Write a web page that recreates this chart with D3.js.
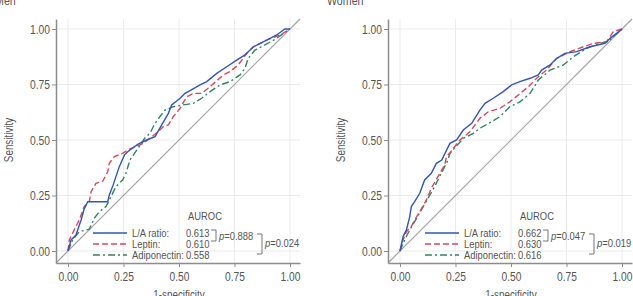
<!DOCTYPE html>
<html>
<head>
<meta charset="utf-8">
<script src="https://cdn.jsdelivr.net/npm/d3@7"></script>
<style>
  body { margin: 0; background: #fff; }
  svg text { font-family: "Liberation Sans", Arial, sans-serif; fill: #555; }
</style>
</head>
<body>
<svg width="633" height="296"></svg>
<script>
// Panels and labels
var panelTitles = ["Men", "Women"];
var seriesNames = ["L/A ratio:", "Leptin:", "Adiponectin:"];
var aurocMen = ["0.613", "0.610", "0.558"];
var aurocWomen = ["0.662", "0.630", "0.616"];
var pMen = ["0.888", "0.024"];
var pWomen = ["0.047", "0.019"];
var tickValues = [0, 0.25, 0.5, 0.75, 1];

// ROC points [1-specificity, sensitivity]
var menLA = [[0,0],[0.014,0.05],[0.036,0.072],[0.059,0.14],[0.073,0.19],[0.089,0.222],[0.104,0.222],[0.179,0.222],[0.186,0.252],[0.201,0.29],[0.216,0.335],[0.231,0.38],[0.254,0.432],[0.269,0.447],[0.279,0.455],[0.314,0.48],[0.354,0.5],[0.392,0.515],[0.422,0.568],[0.452,0.62],[0.467,0.658],[0.505,0.688],[0.527,0.71],[0.542,0.718],[0.595,0.748],[0.625,0.763],[0.67,0.8],[0.715,0.83],[0.76,0.86],[0.797,0.883],[0.835,0.92],[0.895,0.95],[0.94,0.973],[0.977,1.0],[1,1]];
var menLeptin = [[0,0],[0.006,0.05],[0.028,0.095],[0.051,0.14],[0.073,0.2],[0.096,0.222],[0.104,0.267],[0.126,0.305],[0.156,0.313],[0.179,0.357],[0.186,0.395],[0.209,0.425],[0.246,0.44],[0.279,0.46],[0.33,0.48],[0.369,0.507],[0.414,0.545],[0.429,0.56],[0.452,0.568],[0.474,0.605],[0.505,0.643],[0.535,0.695],[0.565,0.71],[0.602,0.71],[0.64,0.74],[0.7,0.793],[0.73,0.808],[0.767,0.838],[0.805,0.89],[0.835,0.92],[0.895,0.95],[0.955,0.973],[1,1]];
var menAdipo = [[0,0],[0.021,0.05],[0.051,0.087],[0.096,0.098],[0.118,0.147],[0.141,0.177],[0.171,0.2],[0.194,0.245],[0.216,0.29],[0.246,0.32],[0.261,0.35],[0.279,0.41],[0.317,0.465],[0.347,0.51],[0.369,0.53],[0.392,0.575],[0.414,0.605],[0.437,0.635],[0.474,0.65],[0.52,0.658],[0.565,0.665],[0.602,0.688],[0.64,0.718],[0.685,0.748],[0.73,0.763],[0.775,0.793],[0.797,0.823],[0.812,0.868],[0.842,0.905],[0.887,0.928],[0.94,0.958],[0.97,0.98],[1,1]];
var womenLA = [[0,0],[0.014,0.065],[0.029,0.095],[0.044,0.155],[0.051,0.2],[0.066,0.222],[0.089,0.26],[0.111,0.32],[0.141,0.35],[0.164,0.395],[0.188,0.41],[0.225,0.485],[0.255,0.5],[0.285,0.545],[0.323,0.575],[0.36,0.635],[0.383,0.665],[0.42,0.688],[0.465,0.718],[0.503,0.748],[0.54,0.763],[0.586,0.778],[0.623,0.793],[0.638,0.815],[0.676,0.838],[0.706,0.868],[0.743,0.89],[0.796,0.898],[0.856,0.92],[0.923,0.935],[0.946,0.958],[0.976,0.98],[1,1]];
var womenLeptin = [[0,0],[0.014,0.05],[0.029,0.087],[0.051,0.11],[0.066,0.14],[0.089,0.177],[0.119,0.23],[0.141,0.282],[0.171,0.335],[0.201,0.387],[0.21,0.425],[0.231,0.45],[0.27,0.5],[0.315,0.537],[0.36,0.598],[0.398,0.627],[0.45,0.643],[0.495,0.672],[0.533,0.703],[0.578,0.74],[0.623,0.785],[0.66,0.815],[0.706,0.868],[0.766,0.898],[0.826,0.92],[0.871,0.935],[0.931,0.943],[0.961,0.988],[1,1]];
var womenAdipo = [[0,0],[0.021,0.05],[0.044,0.095],[0.066,0.132],[0.096,0.185],[0.126,0.237],[0.156,0.29],[0.186,0.35],[0.216,0.41],[0.225,0.44],[0.285,0.507],[0.33,0.53],[0.36,0.553],[0.413,0.582],[0.45,0.605],[0.495,0.65],[0.54,0.672],[0.586,0.71],[0.623,0.77],[0.676,0.815],[0.736,0.838],[0.781,0.875],[0.841,0.913],[0.901,0.935],[0.938,0.943],[0.968,0.973],[1,1]];

var panels = [
  { title: panelTitles[0], series: [menLA, menLeptin, menAdipo], auroc: aurocMen, p: pMen },
  { title: panelTitles[1], series: [womenLA, womenLeptin, womenAdipo], auroc: aurocWomen, p: pWomen }
];

var colors = ["#3356b4", "#d44a5c", "#2f8460"];
var dashes = [null, "6,3", "7,3,2,3"];
var K = 0.82; // narrow the font horizontally

var svg = d3.select("svg");
var extent = [-0.054, 1.045];

function txt(parent, x, y, s, size) {
  return parent.append("text")
    .attr("x", x / K).attr("y", y)
    .attr("transform", "scale(" + K + ",1)")
    .attr("font-size", size || 12)
    .text(s);
}

panels.forEach(function(panel, i) {
  var ox = 56 + 332 * i;
  var x = d3.scaleLinear().domain(extent).range([ox, ox + 244]);
  var y = d3.scaleLinear().domain(extent).range([263, 19]);
  var g = svg.append("g");

  // grid
  g.selectAll(".vgrid").data(tickValues).enter().append("line")
    .attr("x1", function(d) { return x(d); }).attr("x2", function(d) { return x(d); })
    .attr("y1", y(extent[0])).attr("y2", y(extent[1]))
    .attr("stroke", "#ebebeb").attr("stroke-width", 1);
  g.selectAll(".hgrid").data(tickValues).enter().append("line")
    .attr("y1", function(d) { return y(d); }).attr("y2", function(d) { return y(d); })
    .attr("x1", x(extent[0])).attr("x2", x(extent[1]))
    .attr("stroke", "#ebebeb").attr("stroke-width", 1);

  // reference diagonal
  g.append("line")
    .attr("x1", x(extent[0])).attr("y1", y(extent[0]))
    .attr("x2", x(extent[1])).attr("y2", y(extent[1]))
    .attr("stroke", "#a3a3a3").attr("stroke-width", 1.2);

  // ROC curves
  var line = d3.line().x(function(d) { return x(d[0]); }).y(function(d) { return y(d[1]); });
  [2, 1, 0].forEach(function(k) {
    g.append("path")
      .datum(panel.series[k])
      .attr("d", line)
      .attr("fill", "none")
      .attr("stroke", colors[k])
      .attr("stroke-width", 1.4)
      .attr("stroke-dasharray", dashes[k]);
  });

  // axes
  var yAxis = g.append("g").attr("transform", "translate(" + ox + ",0)")
    .call(d3.axisLeft(y).tickValues(tickValues).tickFormat(d3.format(".2f")).tickSize(4).tickSizeOuter(0).tickPadding(2));
  var xAxis = g.append("g").attr("transform", "translate(0,263)")
    .call(d3.axisBottom(x).tickValues(tickValues).tickFormat(d3.format(".2f")).tickSize(4).tickSizeOuter(0).tickPadding(5));
  [yAxis, xAxis].forEach(function(a) {
    a.select(".domain").attr("stroke", "#8c8c8c").attr("stroke-width", 1.5);
    a.selectAll(".tick line").attr("stroke", "#8c8c8c");
    a.selectAll(".tick text")
      .attr("font-size", 12.5)
      .attr("x", function() { return (+d3.select(this).attr("x") || 0) / K; })
      .attr("transform", "scale(" + K + ",1)");
  });

  // titles
  txt(g, i === 0 ? -5 : 327, 5, panel.title, 13);
  txt(g, x(0.5), 299, "1-specificity").attr("text-anchor", "middle");
  g.append("text")
    .attr("transform", "translate(" + (ox - 43) + "," + y(0.5) + ") rotate(-90) scale(" + K + ",1)")
    .attr("text-anchor", "middle").attr("font-size", 12).text("Sensitivity");

  // legend
  var fs = 11.5;
  var lg = g.append("g").attr("transform", "translate(" + ox + ",0)");
  txt(lg, 132, 220, "AUROC", fs);
  var rowY = [237, 248, 259];
  seriesNames.forEach(function(name, k) {
    lg.append("line")
      .attr("x1", 37).attr("x2", 71).attr("y1", rowY[k] - 4).attr("y2", rowY[k] - 4)
      .attr("stroke", colors[k]).attr("stroke-width", 1.4)
      .attr("stroke-dasharray", dashes[k]);
    txt(lg, 76, rowY[k], name, fs);
    txt(lg, 130, rowY[k], panel.auroc[k], fs);
  });

  // bracket 1: rows 1-2
  var b1 = 160;
  lg.append("path")
    .attr("d", "M" + (b1 - 5) + "," + (rowY[0] - 7) + "H" + b1 + "V" + (rowY[1] - 7) + "H" + (b1 - 5))
    .attr("fill", "none").attr("stroke", "#777").attr("stroke-width", 1);
  var p1 = txt(lg, b1 + 3, rowY[0] + 3, "", fs);
  p1.append("tspan").attr("font-style", "italic").text("p");
  p1.append("tspan").text("=" + panel.p[0]);
  // bracket 2: rows 1-3
  var b2 = 206;
  lg.append("path")
    .attr("d", "M" + (b2 - 5) + "," + (rowY[0] - 3) + "H" + b2 + "V" + (rowY[2] - 5) + "H" + (b2 - 5))
    .attr("fill", "none").attr("stroke", "#777").attr("stroke-width", 1);
  var p2 = txt(lg, b2 + 3, rowY[1] - 1, "", fs);
  p2.append("tspan").attr("font-style", "italic").text("p");
  p2.append("tspan").text("=" + panel.p[1]);
});
</script>
</body>
</html>
